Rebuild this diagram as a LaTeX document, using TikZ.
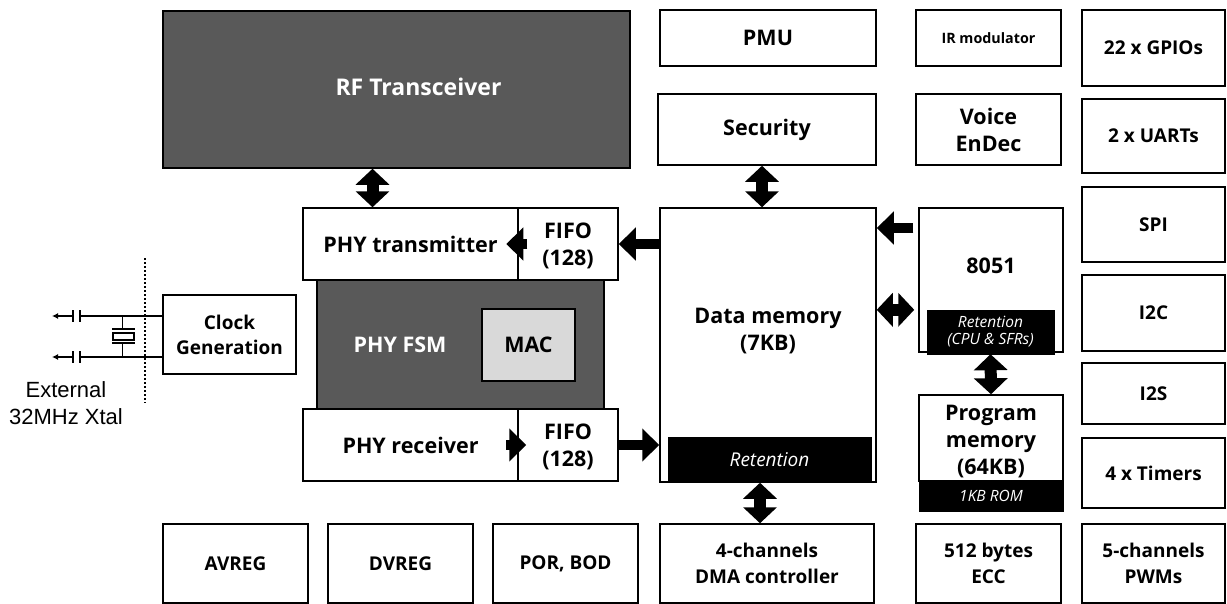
\documentclass[tikz,border=0pt]{standalone}
\usepackage{fontspec}
\setmainfont{Open Sans}
\newfontfamily\arialf{Liberation Sans}
\usetikzlibrary{arrows.meta}
\definecolor{darkbox}{HTML}{595959}
\definecolor{macgray}{HTML}{D9D9D9}
\newcommand\fsmain{\fontsize{21.5}{27}\selectfont}
\newcommand\fsside{\fontsize{19}{26}\selectfont}
\newcommand\fsret{\fontsize{19}{24}\selectfont}
\newcommand\fssmall{\fontsize{15.5}{17}\selectfont}
\tikzset{
  x=1pt,y=-1pt,
  blockbox/.style={draw=black,line width=1.5pt,fill=white,inner sep=0pt,align=center,font=\fsmain\bfseries},
  sideblock/.style={blockbox,font=\fsside\bfseries},
  darkblock/.style={blockbox,fill=darkbox,text=white},
  macblock/.style={blockbox,fill=macgray},
  retbox/.style={draw=black,fill=black,inner sep=0pt,align=center,text=white,font=\fsret\itshape},
  smallret/.style={retbox,font=\fssmall\itshape},
  bigarrow/.style={line width=12pt,{Triangle[length=16pt,width=33pt]}-{Triangle[length=16pt,width=33pt]}},
  onearrow/.style={line width=10.5pt,-{Triangle[length=17pt,width=32pt]}},
  wire/.style={line width=1.2pt,draw=black}
}
\newcommand\bx[7][]{%
  \node[blockbox,#1,minimum width={#5-#3},minimum height={#6-#4}] (#2) at ({(#3+#5)/2},{(#4+#6)/2}) {#7};}
\newcommand\rb[7][]{%
  \node[retbox,#1,minimum width={#5-#3},minimum height={#6-#4}] (#2) at ({(#3+#5)/2},{(#4+#6)/2}) {#7};}
\begin{document}
\begin{tikzpicture}
\useasboundingbox (0,0) rectangle (1227,603);
\bx[darkblock,font=\fontsize{23}{30}\selectfont\bfseries]{rf}{163}{11}{630}{168}{\hspace*{44pt}\raisebox{5pt}{RF Transceiver}}
\bx{pmu}{660}{10}{876}{66}{PMU}
\bx[font=\fontsize{14.3}{18}\selectfont\bfseries]{ir}{916}{10}{1061}{66}{IR modulator}
\bx[sideblock]{gpio}{1082}{10}{1225}{86}{22 x GPIOs}
\bx{sec}{658}{94}{876}{165}{Security}
\bx{voice}{916}{94}{1061}{165}{Voice\\EnDec}
\bx[sideblock]{uart}{1082}{99}{1225}{173}{2 x UARTs}
\bx[sideblock]{spi}{1082}{187}{1225}{262}{SPI}
\bx[sideblock]{i2c}{1082}{275}{1225}{351}{I2C}
\bx[sideblock]{i2s}{1082}{363}{1225}{424}{I2S}
\bx[sideblock]{tim}{1082}{438}{1225}{508}{4 x Timers}
\bx[sideblock]{av}{163}{524}{308}{603}{AVREG}
\bx[sideblock]{dv}{328}{524}{473}{603}{DVREG}
\bx[sideblock]{por}{493}{524}{638}{603}{POR, BOD}
\bx[sideblock]{dma}{660}{524}{874}{603}{4-channels\\DMA controller}
\bx[sideblock]{ecc}{916}{524}{1061}{603}{512 bytes\\ECC}
\bx[sideblock]{pwm}{1082}{524}{1225}{603}{5-channels\\PWMs}
\bx[darkblock]{fsm}{317}{280}{604}{409}{\hspace*{-121pt}PHY FSM}
\bx[macblock]{mac}{482}{309}{575}{381}{MAC}
\bx{tx}{303}{208}{518}{280}{PHY transmitter}
\bx{ftx}{518}{208}{618}{280}{\rule{0pt}{20pt}FIFO\\(128)}
\bx{rx}{303}{409}{518}{481}{PHY receiver}
\bx{frx}{518}{409}{618}{481}{\rule{0pt}{20pt}FIFO\\(128)}
\bx[font=\fontsize{19}{25}\selectfont\bfseries]{clk}{163}{295}{296}{374}{Clock\\Generation}
\bx{data}{660}{208}{876}{482}{Data memory\\(7KB)\rule[-31pt]{0pt}{31pt}}
\rb{dret}{668}{437}{871}{482}{Retention}
\bx{cpu}{919}{208}{1063}{352}{\raisebox{28pt}{8051}}
\rb[smallret]{cret}{927}{310}{1054}{354}{Retention\\(CPU \& SFRs)}
\bx{prog}{919}{395}{1063}{481}{\rule{0pt}{21.5pt}Program\\memory\\(64KB)}
\rb[smallret]{rom}{919}{481}{1063}{511}{1KB ROM}
% block arrows
\draw[bigarrow] ([xshift=-24pt]rf.south) -- ([xshift=-24pt]rf.south |- tx.north);
\draw[bigarrow] ([xshift=-6pt]sec.south -| data.north) -- ([xshift=-6pt]data.north);
\draw[bigarrow] ([xshift=-8pt]data.south -| data.south) -- ([xshift=-8pt]data.south |- dma.north);
\draw[bigarrow] (cret.south) -- (prog.north);
\draw[bigarrow] (data.east |- cret.north) -- ([xshift=-4pt]cpu.west |- cret.north);
\draw[onearrow] ([xshift=-5pt]cpu.west |- 0,228) -- (data.east |- 0,228);
\draw[onearrow] (data.west |- 0,244) -- (ftx.east |- 0,244);
\draw[onearrow] (frx.east |- 0,445) -- (data.west |- 0,445);
\draw[onearrow] ([xshift=10pt]ftx.west |- 0,244) -- ([xshift=-11pt]ftx.west |- 0,244);
\draw[onearrow] ([xshift=-11pt]frx.west |- 0,445) -- ([xshift=9pt]frx.west |- 0,445);
% crystal
\coordinate (c1) at (73,316); \coordinate (c2) at (73,357);
\coordinate (p1) at (80,316); \coordinate (p2) at (80,357);
\coordinate (t1) at (52,316); \coordinate (t2) at (52,357);
\draw[wire] (p1) -- (clk.west |- p1);
\draw[wire] (p2) -- (clk.west |- p2);
\draw[wire,{Latex[length=6pt,width=6pt]}-] (t1) -- (c1);
\draw[wire,{Latex[length=6pt,width=6pt]}-] (t2) -- (c2);
\draw[wire] (73,310) -- (73,322) (80,310) -- (80,322) (73,351) -- (73,363) (80,351) -- (80,363);
\draw[wire] (122.5,316) -- (122.5,329) (112,329) -- (135,329);
\draw[wire] (113,333) rectangle (134,340);
\draw[wire] (112,343) -- (135,343) (122.5,343) -- (122.5,357);
\draw[line width=1.2pt,dash pattern=on 2pt off 2pt] (145,258) -- (145,403);
\node[font=\arialf\fontsize{22}{27}\selectfont,align=center,inner sep=0pt] (xtal) at (66,403) {External\\32MHz Xtal};
\end{tikzpicture}
\end{document}
